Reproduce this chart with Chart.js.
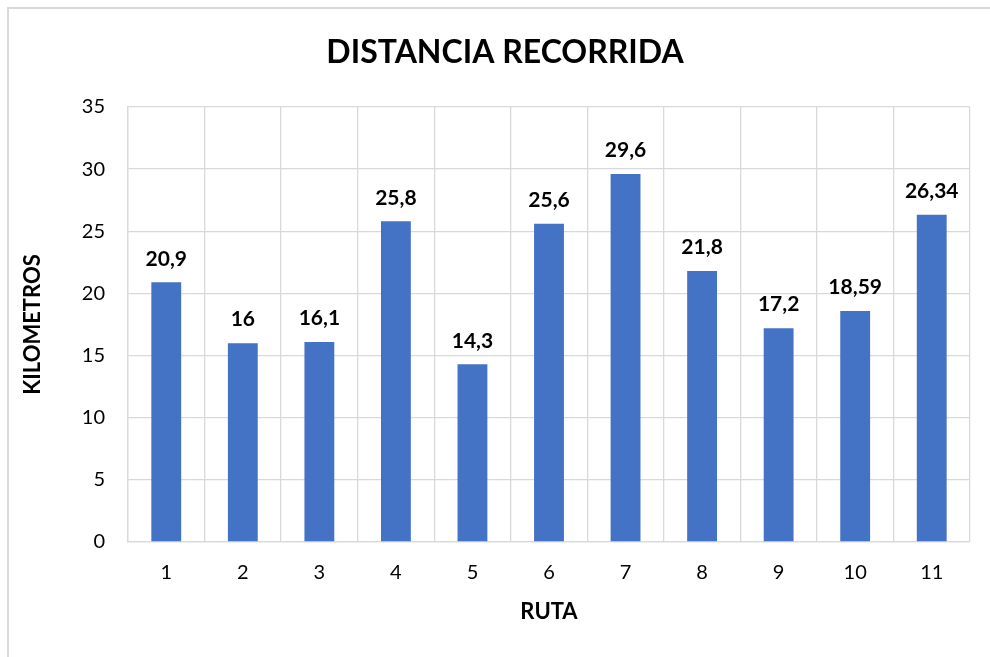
<!DOCTYPE html>
<html>
<head>
<meta charset="utf-8">
<script src="https://cdn.jsdelivr.net/npm/chart.js@4.4.1/dist/chart.umd.min.js"></script>
<style>
html, body { margin: 0; padding: 0; background: #fff; overflow: hidden; }
#frame { position: absolute; left: 7px; top: 7px; width: 2000px; height: 2000px; border: 2px solid #d9d9d9; }
#wrap { position: absolute; left: 0; top: 0; width: 990px; height: 657px; }
</style>
</head>
<body>
<div id="frame"></div>
<div id="wrap"><canvas id="distChart" width="990" height="657"></canvas></div>
<script>
const rutas = ['1', '2', '3', '4', '5', '6', '7', '8', '9', '10', '11'];
const kilometros = [20.9, 16, 16.1, 25.8, 14.3, 25.6, 29.6, 21.8, 17.2, 18.59, 26.34];
const yTicks = [0, 5, 10, 15, 20, 25, 30, 35];

const FONT = 'Lato, "Open Sans", sans-serif';
const GRID = '#d9d9d9';

// data labels above each bar, comma decimals like the original
const barLabels = {
  id: 'barLabels',
  afterDatasetsDraw(chart) {
    const ctx = chart.ctx;
    const meta = chart.getDatasetMeta(0);
    ctx.save();
    ctx.font = 'bold 21px ' + FONT;
    ctx.fillStyle = '#000';
    ctx.textAlign = 'center';
    ctx.textBaseline = 'bottom';
    meta.data.forEach((bar, i) => {
      const txt = String(kilometros[i]).replace('.', ',');
      ctx.fillText(txt, bar.x, bar.y - 13);
    });
    ctx.restore();
  }
};

const ctx = document.getElementById('distChart').getContext('2d');
const distChart = new Chart(ctx, {
  type: 'bar',
  data: {
    labels: rutas,
    datasets: [{ label: 'Kilometros', data: kilometros, backgroundColor: '#4472c4', barPercentage: 0.78, categoryPercentage: 0.5 }]
  },
  options: {
    responsive: false,
    animation: false,
    layout: { padding: { left: 20, right: 0, top: 0, bottom: 0 } },
    plugins: {
      legend: { display: false },
      tooltip: { enabled: false },
      title: {
        display: true,
        text: 'DISTANCIA RECORRIDA',
        color: '#000',
        font: { family: FONT, size: 32, weight: 'bold', lineHeight: 1.2 },
        padding: { top: 33, bottom: 35.6 }
      }
    },
    scales: {
      x: {
        grid: { color: GRID, lineWidth: 1.3, drawTicks: false, offset: true },
        border: { color: GRID, width: 1.3 },
        ticks: { color: '#000', font: { family: FONT, size: 20 }, padding: 19 },
        title: { display: true, text: 'RUTA', color: '#000', font: { family: FONT, size: 22, weight: 'bold', lineHeight: 1.2 }, padding: { top: 0, bottom: 32 } },
        afterFit: s => { s.height = 115; }
      },
      y: {
        min: 0, max: 35,
        afterBuildTicks: s => { s.ticks = yTicks.map(v => ({ value: v })); },
        grid: { color: GRID, lineWidth: 1.3, drawTicks: false },
        border: { color: GRID, width: 1.3 },
        ticks: { color: '#000', font: { family: FONT, size: 20 }, padding: 23 },
        title: { display: true, text: 'KILOMETROS', color: '#000', font: { family: FONT, size: 22, weight: 'bold', lineHeight: 1.2 }, padding: { top: 0, bottom: 0 } },
        afterFit: s => { s.width = 108; }
      },
      yR: {
        position: 'right',
        display: true,
        grid: { display: false },
        border: { display: false },
        ticks: { display: false },
        afterFit: s => { s.width = 20; }
      }
    }
  },
  plugins: [barLabels]
});
</script>
</body>
</html>
